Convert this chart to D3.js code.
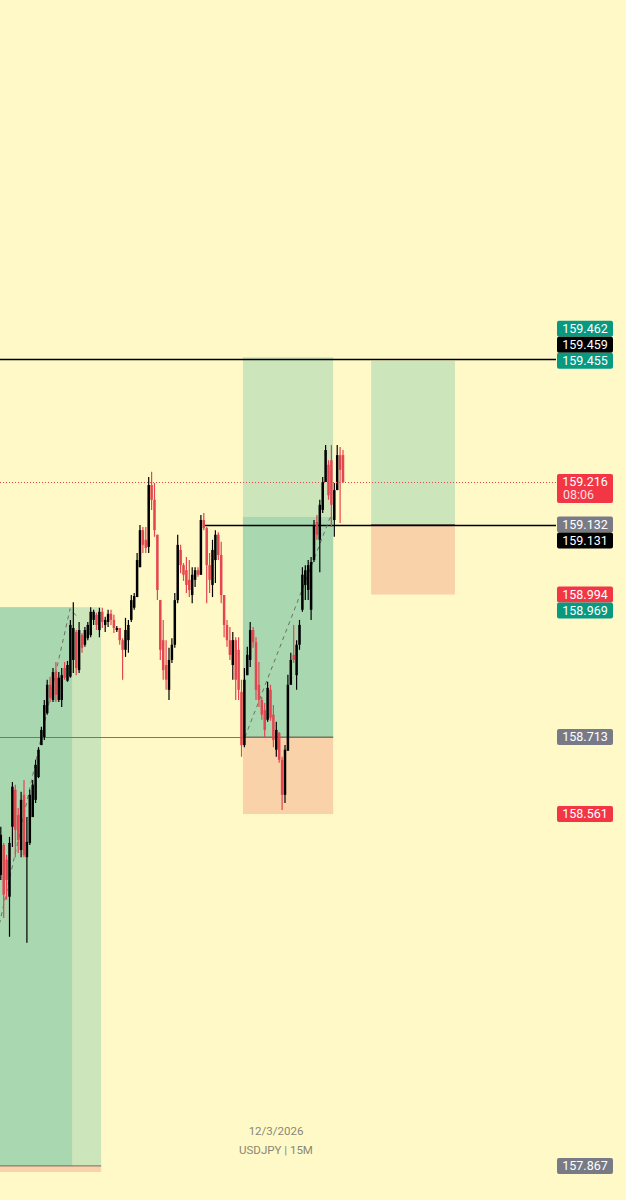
<!DOCTYPE html>
<html>
<head>
<meta charset="utf-8">
<script src="https://cdn.jsdelivr.net/npm/d3@7"></script>
<style>
  html, body { margin: 0; padding: 0; background: #fff9c8; }
  svg { display: block; }
</style>
</head>
<body>
<script>
// USDJPY 15M candles
var candleOpen = [
  158.342,158.382,158.441,158.500,158.471,158.398,158.536,158.609,158.559,158.490,
  158.599,158.476,158.504,158.555,158.589,158.634,158.697,158.713,158.760,158.816,
  158.786,158.841,158.786,158.786,158.849,158.824,158.832,158.865,158.920,158.845,
  158.914,158.895,158.908,158.914,158.944,158.954,158.924,158.960,158.934,158.940,
  158.956,158.944,158.924,158.928,158.904,158.885,158.904,158.944,158.968,158.989,
  159.048,159.121,159.102,159.088,159.210,159.181,159.112,158.983,158.904,158.855,
  158.806,158.865,158.895,158.983,159.082,159.052,159.042,159.023,158.993,159.023,
  159.042,159.033,159.141,159.125,159.052,159.013,159.062,159.112,159.072,158.993,
  158.934,158.904,158.855,158.904,158.885,158.802,158.697,158.835,158.865,158.924,
  158.900,158.816,158.786,158.766,158.747,158.806,158.757,158.688,158.721,158.668,
  158.599,158.686,158.816,158.875,158.835,158.895,158.964,159.013,159.003,158.964,
  159.062,159.137,159.102,159.161,159.216,159.250,159.259,159.141,159.200,159.269,
  159.269
];
var candleHigh = [
  158.490,158.510,158.536,158.504,158.480,158.516,158.624,158.619,158.573,158.605,
  158.628,158.555,158.609,158.628,158.668,158.693,158.733,158.786,158.826,158.832,
  158.849,158.861,158.841,158.849,158.861,158.863,158.944,158.979,158.924,158.940,
  158.918,158.930,158.940,158.969,158.964,158.958,158.968,158.968,158.950,158.964,
  158.964,158.954,158.932,158.928,158.908,158.948,158.944,158.993,158.997,159.076,
  159.131,159.127,159.127,159.226,159.236,159.214,159.112,158.983,158.944,158.904,
  158.889,158.908,158.997,159.112,159.092,159.056,159.068,159.062,159.048,159.048,
  159.048,159.151,159.155,159.127,159.076,159.102,159.121,159.117,159.098,158.993,
  158.944,158.930,158.920,158.910,158.910,158.826,158.849,158.891,158.940,158.930,
  158.910,158.861,158.792,158.780,158.822,158.816,158.776,158.743,158.723,158.674,
  158.697,158.836,158.879,158.934,158.904,158.944,159.048,159.052,159.062,159.068,
  159.141,159.151,159.181,159.226,159.289,159.259,159.289,159.214,159.289,159.285,
  159.279
];
var candleLow = [
  158.323,158.368,158.431,158.356,158.392,158.319,158.496,158.476,158.484,158.476,
  158.476,158.307,158.500,158.555,158.583,158.632,158.697,158.707,158.757,158.782,
  158.782,158.782,158.782,158.772,158.826,158.822,158.830,158.839,158.835,158.839,
  158.879,158.891,158.904,158.910,158.934,158.924,158.910,158.928,158.920,158.930,
  158.934,158.918,158.920,158.895,158.826,158.871,158.879,158.940,158.964,158.989,
  159.048,159.076,159.076,159.076,159.161,159.108,158.983,158.865,158.826,158.806,
  158.786,158.859,158.889,158.977,159.036,159.021,158.997,158.989,158.977,159.009,
  159.029,159.033,159.121,158.977,158.997,158.989,159.017,159.062,158.977,158.910,
  158.891,158.865,158.826,158.786,158.786,158.674,158.693,158.835,158.851,158.889,
  158.786,158.772,158.747,158.711,158.743,158.745,158.693,158.674,158.662,158.569,
  158.583,158.686,158.816,158.859,158.806,158.885,158.960,158.983,158.983,158.944,
  159.058,159.102,159.038,159.155,159.216,159.181,159.127,159.108,159.200,159.135,
  159.214
];
var candleClose = [
  158.461,158.490,158.520,158.402,158.431,158.504,158.615,158.530,158.510,158.589,
  158.480,158.506,158.599,158.619,158.658,158.688,158.727,158.776,158.816,158.790,
  158.841,158.796,158.830,158.835,158.830,158.855,158.934,158.928,158.849,158.924,
  158.889,158.924,158.934,158.960,158.960,158.934,158.960,158.940,158.944,158.956,
  158.944,158.928,158.928,158.904,158.885,158.924,158.934,158.983,158.991,159.062,
  159.121,159.092,159.086,159.210,159.181,159.121,159.003,158.885,158.845,158.826,
  158.865,158.895,158.983,159.092,159.052,159.033,159.013,159.003,159.033,159.042,
  159.033,159.141,159.125,159.052,159.023,159.082,159.112,159.072,158.993,158.934,
  158.904,158.875,158.904,158.826,158.806,158.697,158.826,158.875,158.924,158.900,
  158.806,158.786,158.757,158.727,158.810,158.751,158.707,158.727,158.668,158.599,
  158.688,158.816,158.865,158.865,158.895,158.934,159.033,159.042,159.052,159.058,
  159.131,159.112,159.171,159.216,159.279,159.190,159.171,159.200,159.269,159.240,
  159.216
];

var lastPrice = 159.216;
var countdown = "08:06";

// long position tools: start/end in bar index, prices
var posStart  = [-20, 85.5, 129.7];
var posEnd    = [36.6, 116.6, 158.6];
var posEntry  = [157.867, 158.713, 159.132];
var posTarget = [158.969, 159.462, 159.455];
var posStop   = [157.855, 158.561, 158.994];
var posFillEnd = [26.6, 116.6, null];
var posFillTop = [158.969, 159.147, null];

// dashed trade paths [bar, price]
var tradePaths = [
  [[-17.2, 157.867], [25.9, 158.966], [28.3, 158.950]],
  [[86.2, 158.713], [115.5, 159.145], [116.6, 159.147]]
];

// horizontal lines
var hLinePrice = [159.459, 159.131, 158.713];
var hLineFrom  = [-40, 72.4, -40];
var hLineTo    = [null, null, 116.6];
var hLineColor = ["#000000", "#000000", "#77776a"];

// price scale tags
var tagValues = [159.462, 159.459, 159.455, 159.132, 159.131, 158.994, 158.969, 158.713, 158.561, 157.867];
var tagKinds  = ["green", "black", "green", "gray", "black", "red", "green", "gray", "red", "gray"];

var dateText = "12/3/2026";
var symbolText = "USDJPY | 15M";

var width = 626, height = 1200;
var plotRight = 556;
var colors = {
  bg: "#fff9c8", up: "#000000", down: "#e5454e",
  green: "#089981", red: "#f23645", gray: "#787b86", black: "#000000",
  profit: "#cde5bb", profitDark: "#a8d7b0", loss: "#f9d2aa"
};

var svg = d3.select("body").append("svg")
  .attr("width", width)
  .attr("height", height);

svg.append("rect").attr("width", width).attr("height", height).attr("fill", colors.bg);

var x = d3.scaleLinear().domain([0, 120]).range([-5, 343]);
var y = d3.scaleLinear().domain([lastPrice, 158.713]).range([482, 737]);

svg.append("clipPath").attr("id", "plot")
  .append("rect").attr("x", 0).attr("y", 0).attr("width", plotRight).attr("height", height);

var plot = svg.append("g").attr("clip-path", "url(#plot)");

// position boxes
posStart.forEach(function(s, i) {
  var x0 = x(s), x1 = x(posEnd[i]);
  plot.append("rect")
    .attr("x", x0).attr("width", x1 - x0)
    .attr("y", y(posTarget[i])).attr("height", y(posEntry[i]) - y(posTarget[i]))
    .attr("fill", colors.profit);
  plot.append("rect")
    .attr("x", x0).attr("width", x1 - x0)
    .attr("y", y(posEntry[i])).attr("height", y(posStop[i]) - y(posEntry[i]))
    .attr("fill", colors.loss);
  if (posFillEnd[i] != null) {
    plot.append("rect")
      .attr("x", x0).attr("width", x(posFillEnd[i]) - x0)
      .attr("y", y(posFillTop[i])).attr("height", y(posEntry[i]) - y(posFillTop[i]))
      .attr("fill", colors.profitDark);
  }
  plot.append("line")
    .attr("x1", x0).attr("x2", x1)
    .attr("y1", y(posEntry[i])).attr("y2", y(posEntry[i]))
    .attr("stroke", "#6e6e5e").attr("stroke-width", 1);
});

// horizontal lines
hLinePrice.forEach(function(p, i) {
  plot.append("line")
    .attr("x1", x(hLineFrom[i]))
    .attr("x2", hLineTo[i] == null ? plotRight : x(hLineTo[i]))
    .attr("y1", Math.round(y(p)) + 0.5).attr("y2", Math.round(y(p)) + 0.5)
    .attr("stroke", hLineColor[i])
    .attr("stroke-width", i < 2 ? 1.4 : 1);
});

// dashed trade paths
var pathLine = d3.line().x(function(d) { return x(d[0]); }).y(function(d) { return y(d[1]); });
tradePaths.forEach(function(pts) {
  plot.append("path")
    .attr("d", pathLine(pts))
    .attr("fill", "none")
    .attr("stroke", "#6f6f66")
    .attr("stroke-width", 1)
    .attr("stroke-dasharray", "4,4");
});

// candles
var candles = candleOpen.map(function(o, i) {
  return { i: i, o: o, h: candleHigh[i], l: candleLow[i], c: candleClose[i] };
});

var bars = plot.selectAll(".candle")
  .data(candles)
  .enter()
  .append("g")
  .attr("class", "candle");

bars.append("line")
  .attr("x1", function(d) { return x(d.i); })
  .attr("x2", function(d) { return x(d.i); })
  .attr("y1", function(d) { return y(d.h); })
  .attr("y2", function(d) { return y(d.l); })
  .attr("stroke", function(d) { return d.c >= d.o ? colors.up : colors.down; })
  .attr("stroke-width", 1.2);

bars.append("rect")
  .attr("x", function(d) { return x(d.i) - 1.25; })
  .attr("width", 2.5)
  .attr("y", function(d) { return y(Math.max(d.o, d.c)); })
  .attr("height", function(d) { return Math.max(1, Math.abs(y(d.o) - y(d.c))); })
  .attr("fill", function(d) { return d.c >= d.o ? colors.up : colors.down; });

// last price dotted line
plot.append("line")
  .attr("x1", 0).attr("x2", plotRight)
  .attr("y1", Math.round(y(lastPrice)) + 0.5).attr("y2", Math.round(y(lastPrice)) + 0.5)
  .attr("stroke", colors.down)
  .attr("stroke-width", 1)
  .attr("stroke-dasharray", "1,2");

// price scale tags, stacked away from last price
var tagH = 16;
var tags = tagValues.map(function(v, i) { return { v: v, kind: tagKinds[i], y: y(v) }; });
var above = tags.filter(function(t) { return t.v > lastPrice; }).sort(function(a, b) { return b.y - a.y; });
var below = tags.filter(function(t) { return t.v <= lastPrice; }).sort(function(a, b) { return a.y - b.y; });
above.forEach(function(t, k) { if (k > 0) t.y = Math.min(t.y, above[k - 1].y - tagH); });
below.forEach(function(t, k) { if (k > 0) t.y = Math.max(t.y, below[k - 1].y + tagH); });

var tagG = svg.selectAll(".tag")
  .data(tags)
  .enter()
  .append("g")
  .attr("class", "tag")
  .attr("transform", function(d) { return "translate(557," + (d.y - tagH / 2) + ")"; });

tagG.append("rect")
  .attr("width", 56).attr("height", tagH).attr("rx", 2)
  .attr("fill", function(d) { return colors[d.kind]; });

tagG.append("text")
  .attr("x", 28).attr("y", 12.3)
  .attr("text-anchor", "middle")
  .attr("font-family", "Roboto, sans-serif")
  .attr("font-size", 12.5)
  .attr("fill", "#ffffff")
  .text(function(d) { return d.v.toFixed(3); });

// last price tag with countdown
var lp = svg.append("g").attr("transform", "translate(557," + (y(lastPrice) - 8) + ")");
lp.append("rect").attr("width", 56).attr("height", 29).attr("rx", 2).attr("fill", colors.red);
lp.append("text")
  .attr("x", 28).attr("y", 12.3).attr("text-anchor", "middle")
  .attr("font-family", "Roboto, sans-serif").attr("font-size", 12.5).attr("fill", "#ffffff")
  .text(lastPrice.toFixed(3));
lp.append("text")
  .attr("x", 6).attr("y", 25)
  .attr("font-family", "Roboto, sans-serif").attr("font-size", 12.5).attr("fill", "#ffffff")
  .attr("fill-opacity", 0.85)
  .text(countdown);

// watermark text
svg.append("text")
  .attr("x", 276).attr("y", 1135).attr("text-anchor", "middle")
  .attr("font-family", "Roboto, sans-serif").attr("font-size", 11.5).attr("fill", "#8a8775")
  .text(dateText);
svg.append("text")
  .attr("x", 276).attr("y", 1154).attr("text-anchor", "middle")
  .attr("font-family", "Roboto, sans-serif").attr("font-size", 11.5).attr("fill", "#8a8775")
  .text(symbolText);
</script>
</body>
</html>
